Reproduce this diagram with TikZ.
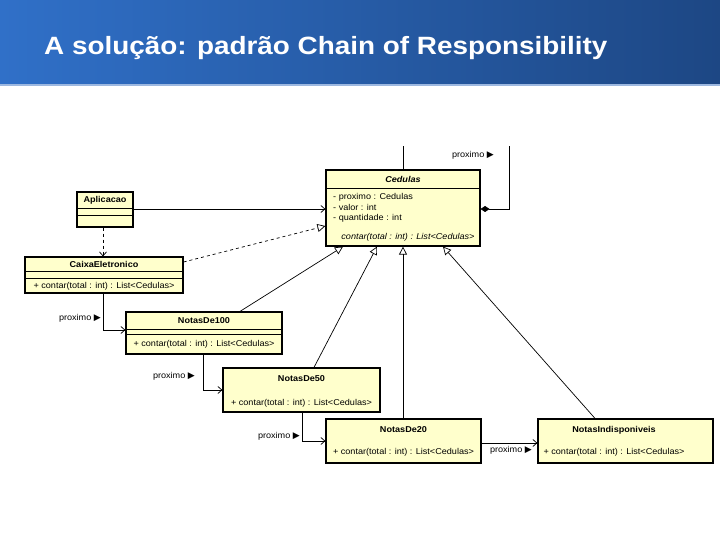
\documentclass[tikz,border=0pt]{standalone}
\usepackage{fontspec}
\setmainfont{Liberation Sans}
\newfontfamily\dejavu{DejaVu Sans}
\newfontfamily\diag[FakeStretch=1.07]{Liberation Sans}
\usetikzlibrary{arrows.meta}
\definecolor{boxfill}{HTML}{FFFFCC}
\definecolor{barL}{HTML}{3070C8}
\definecolor{barM}{HTML}{2A5EAE}
\definecolor{barR}{HTML}{1D4784}
\definecolor{barLine}{HTML}{9DB8E0}
\begin{document}
\begin{tikzpicture}[x=1pt,y=-1pt,
  cls/.style={draw=black, line width=1.2pt, fill=boxfill, inner sep=0pt, anchor=center},
  cname/.style={font=\diag\fontsize{8.5}{9}\selectfont\bfseries, inner sep=0pt},
  ctext/.style={font=\diag\fontsize{8.5}{9}\selectfont, inner sep=0pt},
  divider/.style={line width=0.9pt},
  conn/.style={line width=0.7pt},
  gen/.style={conn, -{Triangle[open, length=8pt, width=8pt]}},
  nav/.style={conn, -{Straight Barb[length=4pt, width=7pt]}},
  plabel/.style={font=\diag\fontsize{8.5}{9}\selectfont, inner sep=0pt}
]
\useasboundingbox (0,0) rectangle (720,540);
\fill[white] (0,0) rectangle (720,540);
% title bar
\shade[left color=barL, middle color=barM, right color=barR] (0,0) rectangle (720,84);
\fill[barLine] (0,84) rectangle (720,86);
\node[anchor=base west, text=white, inner sep=0pt, font=\fontsize{25}{28}\selectfont\bfseries] (title) at (44,55) {\scalebox{1.115}[1]{A solução: padrão Chain of Responsibility}};

% classes
\node[cls, minimum width=56pt, minimum height=35pt] (apl) at (105,209.5) {};
\draw[divider] (apl.west |- 0,208) -- (apl.east |- 0,208);
\draw[divider] (apl.west |- 0,215) -- (apl.east |- 0,215);
\node[cname] (aplN) at (105,200) {Aplicacao};

\node[cls, minimum width=158pt, minimum height=36pt] (cai) at (104,275) {};
\draw[divider] (cai.west |- 0,271) -- (cai.east |- 0,271);
\draw[divider] (cai.west |- 0,278) -- (cai.east |- 0,278);
\node[cname] (caiN) at (104,264) {CaixaEletronico};
\node[ctext] (caiO) at (104,286) {+ contar(total : int) : List<Cedulas>};

\node[cls, minimum width=154pt, minimum height=76pt] (ced) at (403,208) {};
\draw[divider] (ced.west |- 0,188) -- (ced.east |- 0,188);
\node[cname, font=\diag\fontsize{8.5}{9}\selectfont\bfseries\itshape] (cedN) at (403,179) {Cedulas};
\node[ctext, anchor=west] (cedA1) at (333,197) {- proximo : Cedulas};
\node[ctext, anchor=west] (cedA2) at (333,207.5) {- valor : int};
\node[ctext, anchor=west] (cedA3) at (333,218) {- quantidade : int};
\node[ctext, font=\diag\fontsize{8.5}{9}\selectfont\itshape] (cedO) at (408,237) {contar(total : int) : List<Cedulas>};

\node[cls, minimum width=156pt, minimum height=42pt] (n100) at (204,333) {};
\draw[divider] (n100.west |- 0,329) -- (n100.east |- 0,329);
\draw[divider] (n100.west |- 0,334) -- (n100.east |- 0,334);
\node[cname] (n100N) at (204,321) {NotasDe100};
\node[ctext] (n100O) at (204,344) {+ contar(total : int) : List<Cedulas>};

\node[cls, minimum width=157pt, minimum height=44pt] (n50) at (301.5,390) {};
\node[cname] (n50N) at (301.5,379) {NotasDe50};
\node[ctext] (n50O) at (301.5,403) {+ contar(total : int) : List<Cedulas>};

\node[cls, minimum width=155pt, minimum height=44pt] (n20) at (403.5,441) {};
\node[cname] (n20N) at (403.5,430) {NotasDe20};
\node[ctext] (n20O) at (403.5,452) {+ contar(total : int) : List<Cedulas>};

\node[cls, minimum width=175pt, minimum height=44pt] (nind) at (625.5,441) {};
\node[cname] (nindN) at (614,430) {NotasIndisponiveis};
\node[ctext] (nindO) at (614,452) {+ contar(total : int) : List<Cedulas>};

% connectors
\draw[nav] (apl.east |- 0,209) -- (ced.west |- 0,209);
\draw[nav, dashed] (apl.south -| 103,0) -- (cai.north -| 103,0);
\draw[gen, dashed] (cai.east |- 0,262) -- (ced.west |- 0,226);
\draw[gen] (n100.north -| 240,0) -- (ced.south -| 343,0);
\draw[gen] (n50.north -| 314,0) -- (ced.south -| 377,0);
\draw[gen] (n20.north -| 403,0) -- (ced.south -| 403,0);
\draw[gen] (nind.north -| 595,0) -- (ced.south -| 443,0);

% self association
\coordinate (topA) at (403,146);
\coordinate (topB) at (509,146);
\draw[conn] (ced.north) -- (topA);
\draw[conn, {Diamond[length=9pt, width=6pt]}-] (ced.east |- 0,209) -- (509,209) -- (topB);
\node[plabel, anchor=east] (pl0) at (494,155.5) {proximo {\dejavu\fontsize{9}{9}\selectfont ▶}};

% chain
\draw[nav] (cai.south -| 103,0) -- (103,330) -- (n100.west |- 0,330);
\node[plabel, anchor=east] (pl1) at (101,318.5) {proximo {\dejavu\fontsize{9}{9}\selectfont ▶}};
\draw[nav] (n100.south -| 203,0) -- (203,390) -- (n50.west |- 0,390);
\node[plabel, anchor=east] (pl2) at (195,376.5) {proximo {\dejavu\fontsize{9}{9}\selectfont ▶}};
\draw[nav] (n50.south -| 302,0) -- (302,441) -- (n20.west |- 0,441);
\node[plabel, anchor=east] (pl3) at (300,436.5) {proximo {\dejavu\fontsize{9}{9}\selectfont ▶}};
\draw[nav] (n20.east |- 0,443) -- (nind.west |- 0,443);
\node[plabel, anchor=east] (pl4) at (532,450.5) {proximo {\dejavu\fontsize{9}{9}\selectfont ▶}};
\end{tikzpicture}
\end{document}
